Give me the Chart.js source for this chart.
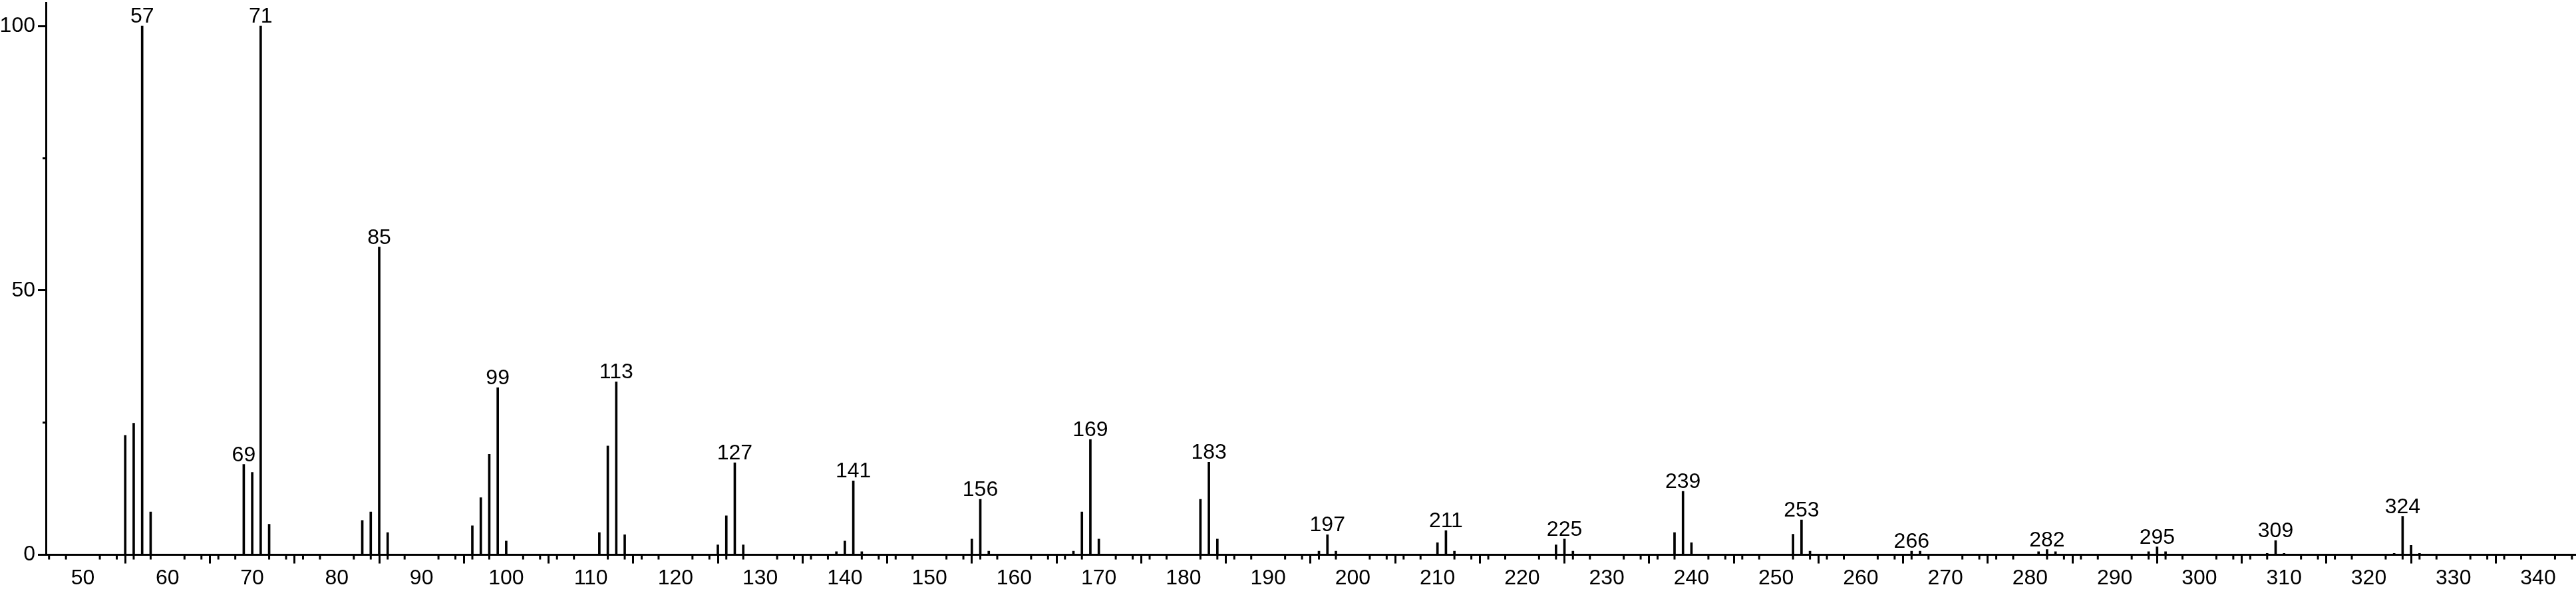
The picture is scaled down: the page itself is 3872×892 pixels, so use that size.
<!DOCTYPE html>
<html>
<head>
<meta charset="utf-8">
<script src="https://cdn.jsdelivr.net/npm/chart.js@4"></script>
<style>
    body { margin: 0; background: #fff; }
    #wrap { width: 3872px; height: 892px; position: relative; }
</style>
</head>
<body>
<div id="wrap"><canvas id="msChart"></canvas></div>
<script>
// --- Spectrum data (m/z, relative intensity) ---
const mzValues = [
    55, 56, 57, 58, 69, 70, 71, 72, 83, 84, 85, 86,
    96, 97, 98, 99, 100, 111, 112, 113, 114,
    125, 126, 127, 128, 139, 140, 141, 142,
    155, 156, 157, 167, 168, 169, 170, 182, 183, 184,
    196, 197, 198, 210, 211, 212, 224, 225, 226,
    238, 239, 240, 252, 253, 254, 266, 267,
    281, 282, 283, 294, 295, 296, 308, 309, 310,
    323, 324, 325, 326
];
const intensities = [
    22.6, 24.9, 100, 8.1, 17.1, 15.6, 100, 5.8, 6.5, 8.1, 58.2, 4.2,
    5.5, 10.8, 19.0, 31.6, 2.6, 4.2, 20.6, 32.7, 3.8,
    1.9, 7.4, 17.4, 1.9, 0.6, 2.6, 14.0, 0.6,
    3.0, 10.5, 0.7, 0.7, 8.1, 21.8, 3.0, 10.5, 17.5, 3.0,
    0.7, 3.8, 0.7, 2.3, 4.6, 0.7, 1.9, 3.0, 0.7,
    4.2, 12.0, 2.3, 3.9, 6.6, 0.7, 0.7, 0.7,
    0.6, 1.0, 0.6, 0.6, 1.5, 0.6, 0.3, 2.7, 0.3,
    0.3, 7.3, 1.8, 0.3
];

// peaks that carry a label
const labeledPeaks = [57, 69, 71, 85, 99, 113, 127, 141, 156, 169, 183, 197, 211, 225, 239, 253, 266, 282, 295, 309, 324];

// axis ticks
const xMajorTicks = [50, 60, 70, 80, 90, 100, 110, 120, 130, 140, 150, 160, 170, 180, 190,
    200, 210, 220, 230, 240, 250, 260, 270, 280, 290, 300, 310, 320, 330, 340];
const yMajorTicks = [0, 50, 100];
const yMinorTicks = [25, 75];

const FONT = { family: "'Liberation Sans', Arial, sans-serif", size: 32 };

// Draws the short minor ticks and the peak labels
const spectrumExtras = {
    id: 'spectrumExtras',
    afterDatasetsDraw(chart) {
        const ctx = chart.ctx;
        const xs = chart.scales.x;
        const ys = chart.scales.y;
        const area = chart.chartArea;

        ctx.save();
        ctx.strokeStyle = '#000';
        ctx.lineWidth = 3;

        // minor x ticks every 2 units
        for (let v = Math.ceil(xs.min / 2) * 2; v <= xs.max; v += 2) {
            if (v % 10 === 0) continue;
            const px = xs.getPixelForValue(v);
            ctx.beginPath();
            ctx.moveTo(px, area.bottom);
            ctx.lineTo(px, area.bottom + 7);
            ctx.stroke();
        }
        // minor y ticks
        yMinorTicks.forEach(v => {
            const py = ys.getPixelForValue(v);
            ctx.beginPath();
            ctx.moveTo(area.left, py);
            ctx.lineTo(area.left - 5, py);
            ctx.stroke();
        });

        // peak labels
        ctx.fillStyle = '#000';
        ctx.font = `${FONT.size}px ${FONT.family}`;
        ctx.textAlign = 'center';
        ctx.textBaseline = 'alphabetic';
        labeledPeaks.forEach(mz => {
            const i = mzValues.indexOf(mz);
            const px = xs.getPixelForValue(mz);
            const py = ys.getPixelForValue(intensities[i]);
            ctx.fillText(String(mz), px, py - 5);
        });
        ctx.restore();
    }
};

const ctx = document.getElementById('msChart').getContext('2d');
new Chart(ctx, {
    type: 'bar',
    data: {
        datasets: [{
            data: mzValues.map((mz, i) => ({ x: mz, y: intensities[i] })),
            backgroundColor: '#000',
            borderWidth: 0,
            barThickness: 3
        }]
    },
    options: {
        responsive: true,
        maintainAspectRatio: false,
        animation: false,
        layout: { padding: { top: 4, right: 0, left: 0, bottom: 0 } },
        plugins: {
            legend: { display: false },
            tooltip: { enabled: false }
        },
        scales: {
            x: {
                type: 'linear',
                min: 45.63,
                max: 344.48,
                offset: false,
                afterBuildTicks: scale => { scale.ticks = xMajorTicks.map(v => ({ value: v })); },
                ticks: {
                    color: '#000',
                    font: FONT,
                    padding: 3,
                    maxRotation: 0,
                    autoSkip: false
                },
                grid: {
                    drawOnChartArea: false,
                    drawTicks: true,
                    tickLength: 13,
                    tickWidth: 3,
                    tickColor: '#000'
                },
                border: { display: true, color: '#000', width: 3 }
            },
            y: {
                min: 0,
                max: 104.4,
                afterBuildTicks: scale => { scale.ticks = yMajorTicks.map(v => ({ value: v })); },
                // top label is not at the axis end, so no extra room is needed above
                afterFit: scale => { scale.paddingTop = 0; scale.width = 69; },
                ticks: {
                    color: '#000',
                    font: FONT,
                    padding: 4
                },
                grid: {
                    drawOnChartArea: false,
                    drawTicks: true,
                    tickLength: 12,
                    tickWidth: 3,
                    tickColor: '#000'
                },
                border: { display: true, color: '#000', width: 3 }
            }
        }
    },
    plugins: [spectrumExtras]
});
</script>
</body>
</html>
